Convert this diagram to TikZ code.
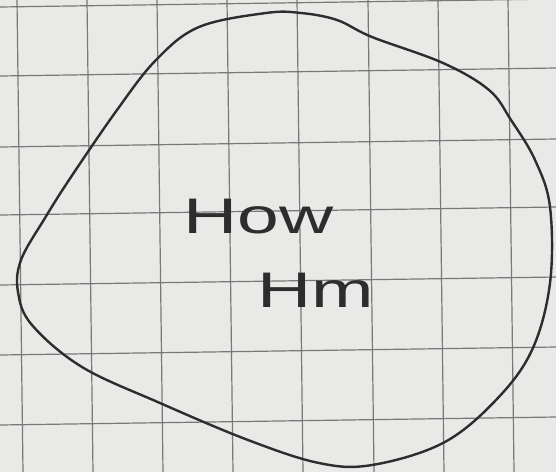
\documentclass[tikz,border=0pt]{standalone}
\usepackage{fontspec}
\setmainfont{Liberation Sans}
\usepackage{graphicx}

\definecolor{paper}{RGB}{233,233,231}
\definecolor{gridline}{RGB}{120,120,120}
\definecolor{ink}{RGB}{45,45,45}

\begin{document}
\begin{tikzpicture}[
            x=1pt, y=-1pt,
            gridrule/.style={draw=gridline, line width=1.2pt},
            blob/.style={draw=ink, line width=2.4pt, line join=round},
            word/.style={text=ink, inner sep=0pt, anchor=base west, font=\fontsize{50}{50}\selectfont}
        ]
            % Paper
            \fill[paper] (0,0) rectangle (556,472);
            \useasboundingbox (0,0) rectangle (556,472);

            % Grid of the paper, slightly tilted
            \foreach \gx in {17,87,157,227,297,368,438,508}
                \draw[gridrule] (\gx,0) -- ({\gx+6},472);
            \foreach \gy in {7,76,147,215,285,355,425}
                \draw[gridrule] (0,\gy) -- (556,{\gy-8});

            % Closed outline
            \draw[blob] plot[smooth cycle, tension=0.6] coordinates {
                (266,13) (301,13) (337,20) (372,37) (443,63) (489,90) (511,120)
                (535,160) (550,207) (550,283) (532,350) (496,400) (443,443)
                (372,465) (319,463) (248,440) (160,403) (82,367) (32,325)
                (18,292) (21,260) (45,218) (71,177) (117,110) (156,60) (199,27)};

            % Words inside
            \node[word] (how) at (183,233) {\scalebox{1.5}[1]{How}};
            \node[word] (hm) at (257,307) {\scalebox{1.5}[1]{Hm}};
        \end{tikzpicture}
\end{document}
